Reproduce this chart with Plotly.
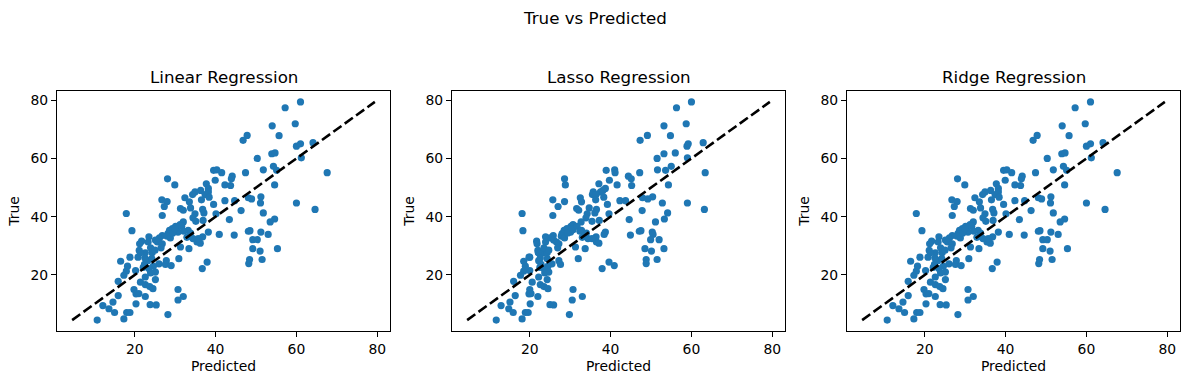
import plotly.graph_objects as go
from plotly.subplots import make_subplots

titles = ["Linear Regression", "Lasso Regression", "Ridge Regression"]
ticks = [20, 40, 60, 80]

y_true = [79.4,77.4,71.2,71.9,67.8,66.2,67.9,64.2,65.0,65.4,
61.6,61.9,60.0,60.2,57.3,56.1,55.9,55.1,55.9,56.1,
55.1,55.1,53.9,53.0,52.5,53.0,50.9,50.9,50.7,50.9,
51.3,49.7,49.0,48.5,47.6,48.5,47.6,46.7,46.8,46.5,
46.1,46.5,45.1,45.8,45.2,45.8,45.5,45.5,44.7,44.7,
43.5,44.2,42.8,42.2,43.0,42.5,42.1,42.5,41.3,41.0,
41.3,41.1,40.4,41.0,39.6,38.4,38.7,39.2,38.2,39.0,
38.2,37.3,36.7,35.9,35.3,35.5,34.2,34.7,35.2,35.3,
34.7,35.0,35.2,34.7,33.9,33.9,33.7,33.5,32.7,33.1,
32.0,31.3,31.6,30.7,31.3,32.9,31.3,30.9,33.1,32.1,
32.1,29.6,29.0,30.7,29.3,29.0,28.2,29.0,28.4,27.6,
27.6,26.1,26.1,25.6,24.9,25.6,24.9,24.7,25.3,23.9,
25.3,24.4,22.2,23.6,23.2,23.8,23.0,23.6,21.3,21.5,
22.2,21.0,19.9,19.3,17.8,17.5,16.7,16.0,18.4,15.3,
15.0,13.5,13.6,12.9,12.6,15.0,12.6,11.4,10.7,9.5,
10.1,9.8,9.7,8.4,7.1,7.1,7.1,4.9,4.5,6.4,
27.6,29.3,28.5,25.8,33.3,32.7,34.4,35.9,36.7,35.0,34.4,32.5,32.5,22.6,20.7,23.0]

linear_pred = [61.0,57.2,54.0,59.7,55.7,46.8,47.8,60.0,61.0,64.1,
53.9,54.7,50.3,61.2,54.3,51.8,55.1,67.6,39.5,40.3,
41.5,47.4,44.1,43.9,39.9,28.1,29.9,42.3,43.7,54.6,
37.7,38.2,36.3,34.9,34.3,38.2,37.4,38.4,51.2,48.1,
48.9,32.4,33.5,26.7,28.0,36.5,42.3,44.7,51.1,60.0,
27.3,39.5,31.3,32.0,33.8,36.8,46.3,64.6,51.8,34.9,
37.1,17.9,26.8,40.1,34.4,35.1,36.9,54.6,53.5,43.4,
32.0,31.2,30.1,29.3,28.6,30.4,28.2,30.7,19.3,33.2,
38.2,48.1,48.5,51.2,53.0,40.9,44.6,26.8,26.1,23.5,
25.1,25.6,21.7,21.2,23.3,32.9,35.4,36.2,36.8,49.2,
50.3,31.3,33.4,26.8,26.5,49.2,51.0,55.3,21.1,22.6,
24.3,20.8,18.8,30.9,27.8,24.2,23.2,16.5,48.4,48.2,
51.5,37.9,36.7,27.6,29.0,26.0,24.6,22.4,17.9,20.2,
23.5,25.1,17.3,22.6,15.9,21.4,22.6,23.7,25.1,24.5,
19.8,20.3,21.0,15.9,22.6,30.7,32.0,30.7,14.6,12.1,
20.3,23.8,25.3,13.6,15.0,18.0,18.8,17.3,10.7,28.2,
21.4,23.9,25.0,22.5,28.0,28.8,29.4,29.9,31.6,32.1,33.8,34.4,35.7,22.1,23.9,18.2]

lasso_pred = [60.0,56.3,53.2,58.7,54.8,47.3,49.1,58.9,59.2,62.9,
53.2,56.0,51.5,59.0,55.0,51.6,53.6,63.4,38.9,41.0,
41.1,47.2,44.4,45.1,39.7,28.6,28.8,41.6,45.2,54.3,
37.1,38.7,38.1,35.7,35.5,37.5,36.4,38.3,50.4,47.9,
49.2,32.5,32.8,25.7,28.6,36.3,42.3,43.7,52.8,59.0,
27.0,39.2,31.6,32.1,34.7,36.5,47.8,63.2,54.1,34.2,
36.1,18.1,25.7,39.6,33.9,35.4,37.2,53.3,51.1,44.6,
32.7,30.7,30.2,29.2,28.5,30.7,28.0,30.1,18.3,32.8,
38.7,47.1,47.5,50.3,50.5,38.4,44.9,25.8,25.0,23.9,
25.9,26.6,21.7,21.8,23.9,33.0,36.5,37.1,36.4,49.9,
52.0,31.3,33.7,27.2,26.9,48.5,50.1,53.2,22.0,23.3,
24.3,20.0,19.8,32.0,27.2,24.3,22.2,18.5,48.8,48.8,
51.5,39.6,37.9,27.6,40.9,25.5,24.5,22.8,18.5,20.0,
23.5,24.7,17.7,22.2,16.0,20.6,22.6,23.5,24.3,24.5,
20.0,19.8,20.3,16.4,22.0,30.7,33.0,30.5,15.1,12.9,
20.1,25.0,25.9,14.8,15.9,18.9,19.6,18.1,11.7,29.8,
22.1,23.5,24.7,22.6,27.8,28.6,29.4,30.5,31.7,32.4,34.0,34.4,35.4,22.5,23.7,18.9]

ridge_pred = [61.0,57.2,54.0,59.7,55.7,46.8,47.8,60.0,61.0,64.1,
53.9,54.7,50.3,61.2,54.3,51.8,55.1,67.6,39.5,40.3,
41.5,47.4,44.1,43.9,39.9,28.1,29.9,42.3,43.7,54.6,
37.7,38.2,36.3,34.9,34.3,38.2,37.4,38.4,51.2,48.1,
48.9,32.4,33.5,26.7,28.0,36.5,42.3,44.7,51.1,60.0,
27.3,39.5,31.3,32.0,33.8,36.8,46.3,64.6,51.8,34.9,
37.1,17.9,26.8,40.1,34.4,35.1,36.9,54.6,53.5,43.4,
32.0,31.2,30.1,29.3,28.6,30.4,28.2,30.7,19.3,33.2,
38.2,48.1,48.5,51.2,53.0,40.9,44.6,26.8,26.1,23.5,
25.1,25.6,21.7,21.2,23.3,32.9,35.4,36.2,36.8,49.2,
50.3,31.3,33.4,26.8,26.5,49.2,51.0,55.3,21.1,22.6,
24.3,20.8,18.8,30.9,27.8,24.2,23.2,16.5,48.4,48.2,
51.5,37.9,36.7,27.6,29.0,26.0,24.6,22.4,17.9,20.2,
23.5,25.1,17.3,22.6,15.9,21.4,22.6,23.7,25.1,24.5,
19.8,20.3,21.0,15.9,22.6,30.7,32.0,30.7,14.6,12.1,
20.3,23.8,25.3,13.6,15.0,18.0,18.8,17.3,10.7,28.2,
21.4,23.9,25.0,22.5,28.0,28.8,29.4,29.9,31.6,32.1,33.8,34.4,35.7,22.1,23.9,18.2]

preds = [linear_pred, lasso_pred, ridge_pred]

W, H = 1189, 384
FONT = "DejaVu Sans"
fig = make_subplots(rows=1, cols=3)

lo, hi = min(y_true), max(y_true)
pad = (hi - lo) * 0.05
rng = [lo - pad, hi + pad]

x_doms = [(57, 390), (452, 785), (847, 1180)]
top_px, bot_px = 91, 331
y_dom = [1 - bot_px / H, 1 - top_px / H]

for i, pred in enumerate(preds):
    c = i + 1
    fig.add_trace(go.Scatter(x=pred, y=y_true, mode="markers",
                             marker=dict(color="#1f77b4", size=7.2, line=dict(width=0)),
                             showlegend=False), row=1, col=c)
    fig.add_trace(go.Scatter(x=[lo, hi], y=[lo, hi], mode="lines",
                             line=dict(color="black", width=2.6, dash="10px,4px"),
                             showlegend=False), row=1, col=c)
    ax = dict(range=rng, tickvals=ticks, ticks="outside", ticklen=5, tickwidth=1,
              tickcolor="black", showline=True, linecolor="black", linewidth=1,
              mirror=True, showgrid=False, zeroline=False,
              tickfont=dict(family=FONT, size=13.9, color="black"))
    d = x_doms[i]
    fig.update_xaxes(domain=[d[0] / W, d[1] / W],
                     title=dict(text="Predicted", standoff=5,
                                font=dict(family=FONT, size=13.9, color="black")),
                     **ax, row=1, col=c)
    fig.update_yaxes(domain=y_dom,
                     title=dict(text="True", standoff=7,
                                font=dict(family=FONT, size=13.9, color="black")),
                     **ax, row=1, col=c)
    fig.add_annotation(text=titles[i], xref="paper", yref="paper",
                       x=(d[0] + d[1]) / 2 / W, y=y_dom[1], xanchor="center",
                       yanchor="bottom", yshift=2, showarrow=False,
                       font=dict(family=FONT, size=16.7, color="black"))

fig.add_annotation(text="True vs Predicted", xref="paper", yref="paper",
                   x=0.5, y=1 - 18 / H, xanchor="center", yanchor="middle",
                   showarrow=False, font=dict(family=FONT, size=16.7, color="black"))

fig.update_layout(width=W, height=H, margin=dict(l=0, r=0, t=0, b=0),
                  plot_bgcolor="white", paper_bgcolor="white", showlegend=False)

fig.write_html("out.html", config={"displayModeBar": False},
               post_script="document.body.style.margin='0';document.body.style.padding='0';")
